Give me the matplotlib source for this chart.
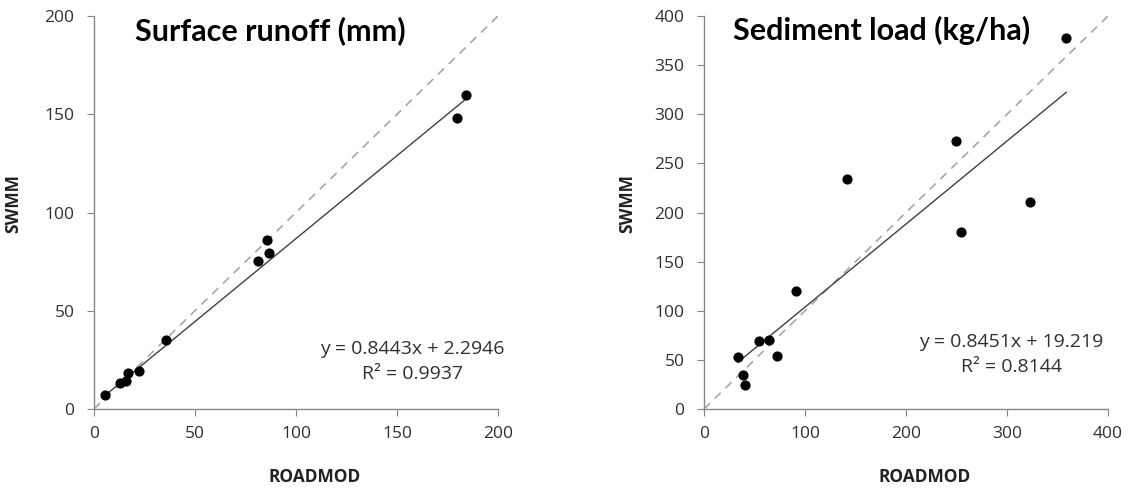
import matplotlib.pyplot as plt
import numpy as np

plt.rcParams['font.family'] = ['Open Sans', 'DejaVu Sans']

# Surface runoff (mm): ROADMOD vs SWMM
runoff_roadmod = [5.5, 13, 16, 17, 22.4, 35.6, 81.3, 85.8, 86.8, 179.5, 184]
runoff_swmm = [7, 13, 14.5, 18.3, 19.1, 35.2, 75.4, 86.1, 79.6, 148.3, 159.7]
runoff_fit = (0.8443, 2.2946)
runoff_r2 = 0.9937

# Sediment load (kg/ha): ROADMOD vs SWMM
sed_roadmod = [33.4, 38.3, 40.6, 54.5, 64.7, 72.1, 91.2, 141.4, 249.3, 254.6, 323.2, 358.7]
sed_swmm = [52.5, 34.9, 24, 68.8, 70.5, 54.2, 120.3, 234.2, 273.2, 180.6, 210.8, 378]
sed_fit = (0.8451, 19.219)
sed_r2 = 0.8144

panels = [
    dict(title="Surface runoff (mm)", x=runoff_roadmod, y=runoff_swmm, fit=runoff_fit,
         r2=runoff_r2, lim=200, ystep=50, xstep=50, rect=[94, 16, 404, 393],
         eq_xy=(1.017, 0.122), title_x=0.101, ylab_x=-0.20),
    dict(title="Sediment load (kg/ha)", x=sed_roadmod, y=sed_swmm, fit=sed_fit,
         r2=sed_r2, lim=400, ystep=50, xstep=100, rect=[704, 16, 404, 393],
         eq_xy=(0.988, 0.139), title_x=0.072, ylab_x=-0.19),
]

W, H = 1133, 490
fig = plt.figure(figsize=(W / 100, H / 100), dpi=100)

for p in panels:
    x0, y0, w, h = p['rect']
    ax = fig.add_axes([x0 / W, 1 - (y0 + h) / H, w / W, h / H])
    lim = p['lim']

    # 1:1 line
    ax.plot([0, lim], [0, lim], color='#a6a6a6', linestyle=(0, (5, 4)), linewidth=1.2, zorder=1)
    # linear trend
    xs = np.array([min(p['x']), max(p['x'])])
    a, b = p['fit']
    ax.plot(xs, a * xs + b, color='#404040', linewidth=1.0, zorder=2)
    ax.scatter(p['x'], p['y'], s=40, color='black', zorder=3)

    ax.set_xlim(0, lim)
    ax.set_ylim(0, lim)
    ax.set_yticks(np.arange(0, lim + 1, p['ystep']))
    ax.set_xticks(np.arange(0, lim + 1, p['xstep']))
    for s in ['top', 'right']:
        ax.spines[s].set_visible(False)
    for s in ['left', 'bottom']:
        ax.spines[s].set_color('#868686')
        ax.spines[s].set_linewidth(1.0)
    ax.tick_params(colors='#868686', labelcolor='#303030', labelsize=12.5,
                   length=5, direction='out')
    ax.tick_params(axis='y', pad=9)
    ax.tick_params(axis='x', pad=7)

    ax.set_xlabel("ROADMOD", fontsize=12.5, fontweight='bold', color='#222222')
    ax.set_ylabel("SWMM", fontsize=12.5, fontweight='bold', color='#222222')
    ax.xaxis.set_label_coords(0.545, -0.172)
    ax.yaxis.set_label_coords(p['ylab_x'], 0.524)
    ax.xaxis.label.set_va('center')
    ax.yaxis.label.set_va('center')

    ax.text(p['title_x'], 0.962, p['title'], transform=ax.transAxes, fontsize=22,
            fontweight='bold', ha='left', va='center', family=['Lato', 'DejaVu Sans'])
    ex, ey = p['eq_xy']
    ax.text(ex, ey, f"y = {a}x + {b}\nR² = {p['r2']}", transform=ax.transAxes,
            fontsize=14, ha='right', va='center', multialignment='center',
            color='#303030', linespacing=1.5)

fig.savefig('out.png', dpi=100)
